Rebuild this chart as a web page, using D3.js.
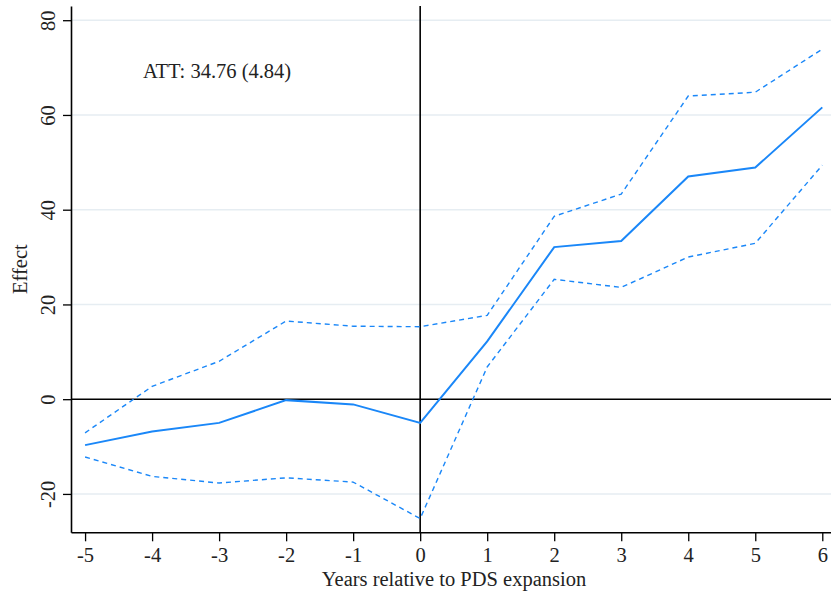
<!DOCTYPE html>
<html>
<head>
<meta charset="utf-8">
<script src="https://cdn.jsdelivr.net/npm/d3@7"></script>
<style>
  body { margin: 0; background: #fff; }
  svg { display: block; font-family: "Liberation Serif", "DejaVu Serif", serif; }
</style>
</head>
<body>
<div id="d3-container"></div>
<script>
const years = [-5, -4, -3, -2, -1, 0, 1, 2, 3, 4, 5, 6];
const effect = [-9.7, -6.8, -5.0, -0.2, -1.1, -5.0, 12.2, 32.1, 33.4, 47.0, 48.9, 61.6];
const upper = [-7.1, 2.7, 8.0, 16.5, 15.4, 15.3, 17.7, 38.6, 43.3, 64.0, 64.8, 73.9];
const lower = [-12.2, -16.3, -17.7, -16.6, -17.5, -25.2, 6.8, 25.3, 23.6, 30.0, 32.9, 49.4];
const yTicks = [-20, 0, 20, 40, 60, 80];
const attLabel = 'ATT: 34.76 (4.84)';

const width = 831, height = 598;
const blue = '#1a87f8';
const fs = '20.5px';

const svg = d3.select('#d3-container')
  .append('svg')
  .attr('width', width)
  .attr('height', height);

const x = d3.scaleLinear()
  .domain([-5.21, 6.13])
  .range([71, 831]);

const y = d3.scaleLinear()
  .domain([-28.1, 83.0])
  .range([532.3, 6]);

// gridlines
svg.append('g')
  .selectAll('line')
  .data(yTicks.filter(d => d !== 0))
  .join('line')
  .attr('x1', x.range()[0])
  .attr('x2', x.range()[1])
  .attr('y1', d => y(d))
  .attr('y2', d => y(d))
  .attr('stroke', '#e6edf2')
  .attr('stroke-width', 1.4);

// reference lines
svg.append('line')
  .attr('x1', x.range()[0]).attr('x2', x.range()[1])
  .attr('y1', y(0)).attr('y2', y(0))
  .attr('stroke', '#000').attr('stroke-width', 1.6);
svg.append('line')
  .attr('x1', x(0)).attr('x2', x(0))
  .attr('y1', y.range()[1]).attr('y2', y.range()[0])
  .attr('stroke', '#000').attr('stroke-width', 1.6);

const line = d3.line()
  .x((d, i) => x(years[i]))
  .y(d => y(d));

svg.append('path')
  .attr('d', line(upper))
  .attr('fill', 'none')
  .attr('stroke', blue)
  .attr('stroke-width', 1.4)
  .attr('stroke-dasharray', '5,4');

svg.append('path')
  .attr('d', line(lower))
  .attr('fill', 'none')
  .attr('stroke', blue)
  .attr('stroke-width', 1.4)
  .attr('stroke-dasharray', '5,4');

svg.append('path')
  .attr('d', line(effect))
  .attr('fill', 'none')
  .attr('stroke', blue)
  .attr('stroke-width', 2);

const fmt = d => String(d);

function xAxis(g) {
  g.attr('transform', `translate(0,${y.range()[0]})`)
    .call(d3.axisBottom(x).tickValues(years).tickFormat(fmt).tickSize(9).tickSizeOuter(0).tickPadding(6))
    .attr('font-size', fs)
    .attr('font-family', null);
  g.select('.domain').attr('stroke-width', 1.6);
  g.selectAll('.tick line').attr('stroke-width', 1.3);
  g.selectAll('.tick text').attr('fill', '#222');
}

function yAxis(g) {
  g.attr('transform', `translate(${x.range()[0]},0)`)
    .call(d3.axisLeft(y).tickValues(yTicks).tickFormat(fmt).tickSize(8).tickSizeOuter(0).tickPadding(0))
    .attr('font-size', fs)
    .attr('font-family', null);
  g.select('.domain').attr('stroke-width', 1.6);
  g.selectAll('.tick line').attr('stroke-width', 1.3);
  g.selectAll('.tick text')
    .attr('fill', '#222')
    .attr('x', null).attr('dy', null)
    .attr('text-anchor', 'middle')
    .attr('transform', 'translate(-21,0) rotate(-90)')
    .attr('dominant-baseline', 'middle');
}

svg.append('g').call(xAxis);
svg.append('g').call(yAxis);

svg.append('text')
  .attr('x', 454)
  .attr('y', 586)
  .attr('text-anchor', 'middle')
  .attr('font-size', fs)
  .attr('fill', '#222')
  .text('Years relative to PDS expansion');

svg.append('text')
  .attr('transform', `translate(27,${(y.range()[0] + y.range()[1]) / 2}) rotate(-90)`)
  .attr('text-anchor', 'middle')
  .attr('font-size', fs)
  .attr('fill', '#222')
  .text('Effect');

svg.append('text')
  .attr('x', 143)
  .attr('y', 78)
  .attr('font-size', fs)
  .attr('fill', '#222')
  .text(attLabel);
</script>
</body>
</html>
